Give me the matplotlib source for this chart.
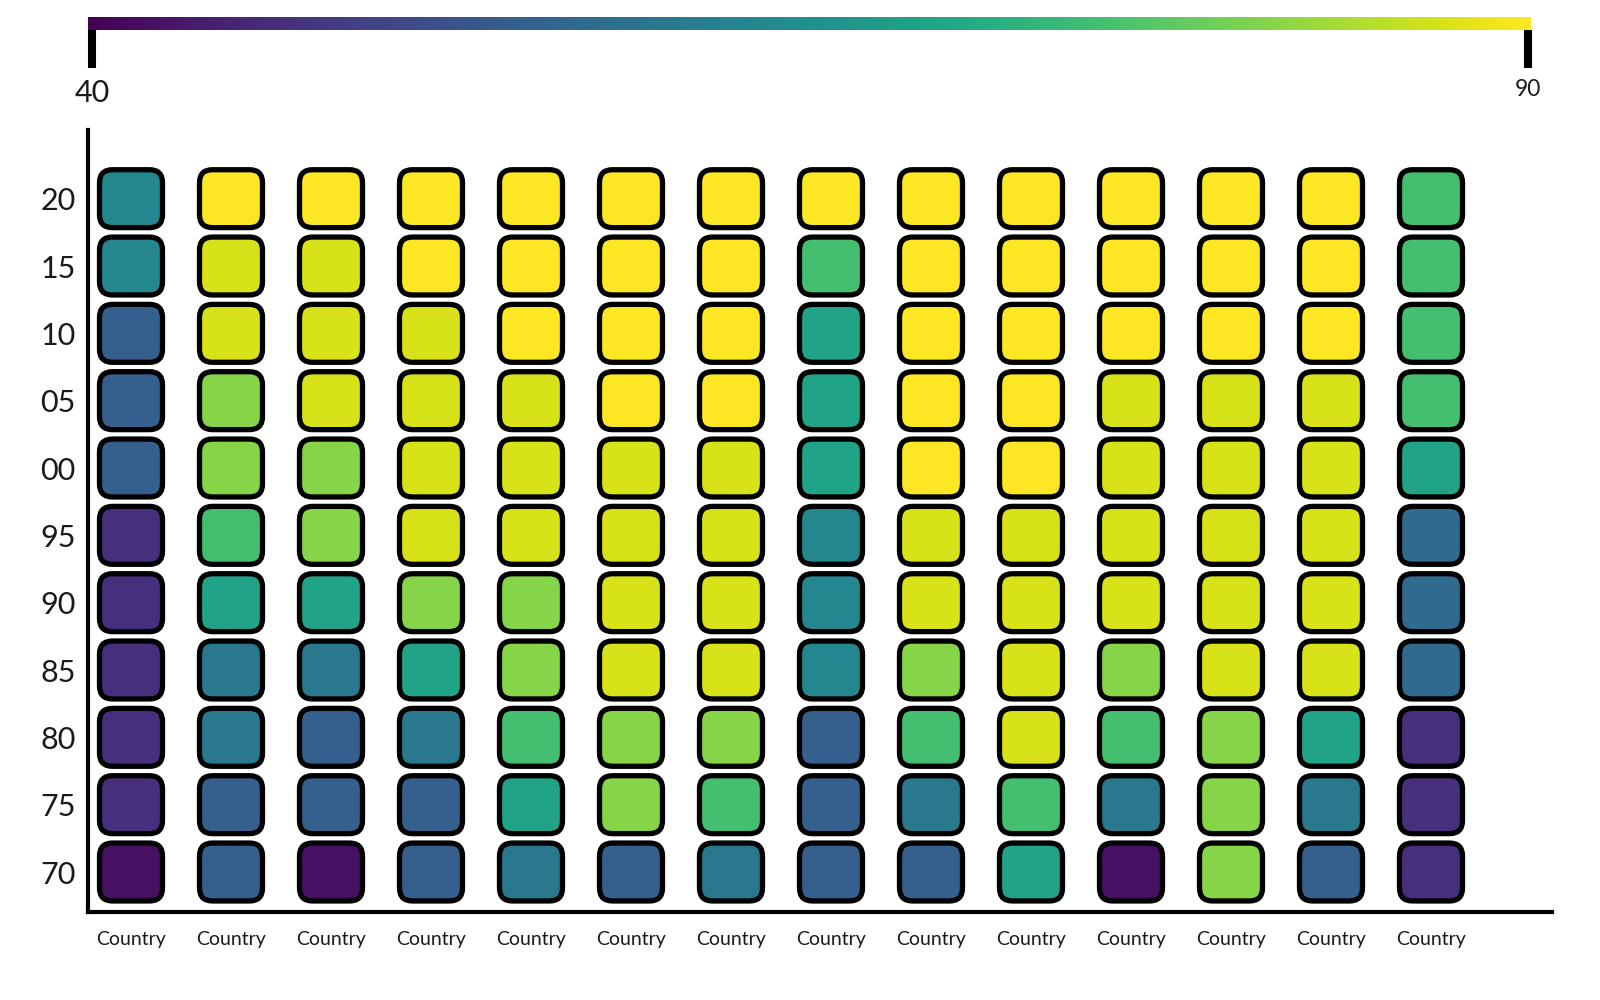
import matplotlib
matplotlib.use('Agg')
import matplotlib.pyplot as plt
import matplotlib.colors as mcolors
from matplotlib.patches import FancyBboxPatch
import numpy as np

plt.rcParams['font.family'] = ['Lato', 'DejaVu Sans']

# year rows, top to bottom
years = ['20', '15', '10', '05', '00', '95', '90', '85', '80', '75', '70']
countries = ['Country'] * 14

scores = [
    [63, 90, 90, 90, 90, 90, 90, 90, 90, 90, 90, 90, 90, 75],  # 20
    [63, 87, 87, 90, 90, 90, 90, 75, 90, 90, 90, 90, 90, 75],  # 15
    [55, 87, 87, 87, 90, 90, 90, 69, 90, 90, 90, 90, 90, 75],  # 10
    [55, 81, 87, 87, 87, 90, 90, 69, 90, 90, 87, 87, 87, 75],  # 05
    [55, 81, 81, 87, 87, 87, 87, 69, 90, 90, 87, 87, 87, 69],  # 00
    [47, 75, 81, 87, 87, 87, 87, 63, 87, 87, 87, 87, 87, 57],  # 95
    [47, 69, 69, 81, 81, 87, 87, 63, 87, 87, 87, 87, 87, 57],  # 90
    [47, 60, 60, 69, 81, 87, 87, 63, 81, 87, 81, 87, 87, 57],  # 85
    [47, 60, 55, 60, 75, 81, 81, 55, 75, 87, 75, 81, 69, 47],  # 80
    [47, 55, 55, 55, 69, 81, 75, 55, 60, 75, 60, 81, 60, 47],  # 75
    [42, 55, 42, 55, 60, 55, 60, 55, 55, 69, 42, 81, 55, 47],  # 70
]
vmin, vmax = 40, 90

cmap = plt.get_cmap('viridis')
norm = mcolors.Normalize(vmin=vmin, vmax=vmax)

fig = plt.figure(figsize=(16, 10), dpi=100)
ax = fig.add_axes([0.055, 0.088, 0.915, 0.782])

n_rows = len(years)
ax.set_xlim(-0.43, 14.21)
ax.set_ylim(-0.594, 11.02)

# px per data unit: 100 in x, ~67.3 in y -> keep rounded corners circular
aspect = 100 / 67.3
w, h = 0.63, 0.86
for r, row in enumerate(scores):
    y = n_rows - 1 - r
    for c, val in enumerate(row):
        box = FancyBboxPatch((c - w / 2, y - h / 2), w, h,
                             boxstyle='round,pad=0,rounding_size=0.13',
                             mutation_aspect=aspect,
                             facecolor=cmap(norm(val)), edgecolor='black',
                             linewidth=3.8)
        ax.add_patch(box)

ax.set_yticks(range(n_rows))
ax.set_yticklabels(years[::-1], fontsize=22, color='#1a1a1a')
ax.set_xticks(range(len(countries)))
ax.set_xticklabels(countries, fontsize=14, color='#1a1a1a')
ax.tick_params(axis='both', length=0)
ax.tick_params(axis='y', pad=9)
ax.tick_params(axis='x', pad=14)
for side in ['top', 'right']:
    ax.spines[side].set_visible(False)
for side in ['left', 'bottom']:
    ax.spines[side].set_linewidth(3)

# colour scale on top
cax = fig.add_axes([0.055, 0.970, 0.902, 0.013])
sm = plt.cm.ScalarMappable(norm=norm, cmap=cmap)
cb = fig.colorbar(sm, cax=cax, orientation='horizontal')
cb.outline.set_visible(False)
cb.set_ticks([40.15, 89.9])
cb.set_ticklabels(['40', '90'])
cax.tick_params(length=27, width=5.8, direction='out', color='black', pad=8)
labs = cax.get_xticklabels()
labs[0].set_fontsize(22)
labs[1].set_fontsize(16.5)
for t in labs:
    t.set_color('#1a1a1a')

fig.savefig('out.png', dpi=100)
